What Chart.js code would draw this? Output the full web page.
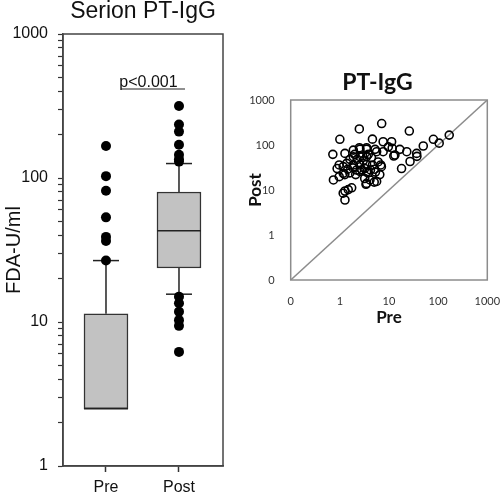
<!DOCTYPE html>
<html><head><meta charset="utf-8">
<script src="https://cdn.jsdelivr.net/npm/chart.js@4.4.1/dist/chart.umd.min.js"></script>
<style>
html,body{margin:0;padding:0;background:#fff;}
#wrap{position:relative;width:500px;height:496px;overflow:hidden;background:#fff;}
#c1{position:absolute;left:0;top:0;}
#c2{position:absolute;left:245px;top:0;}
</style></head><body>
<div id="wrap">
<canvas id="c1" width="250" height="496" style="width:250px;height:496px"></canvas>
<canvas id="c2" width="255" height="330" style="width:255px;height:330px"></canvas>
</div>
<script>
// ---------- Left panel: box plot ----------
const boxTitle = 'Serion PT-IgG';
const boxYLabel = 'FDA-U/ml';
const groups = ['Pre', 'Post'];
const q1 = [2.5, 23.7];
const medians = [2.5, 43];
const q3 = [11.4, 80];
const whiskerLow = [2.5, 15.6];
const whiskerHigh = [26.7, 126];
const preOutliers = [167, 103, 81.6, 53.3, 39, 36.5, 26.7];
const postOutliers = [316, 235, 210, 170, 145, 135, 130, 15, 13.5, 11.8, 10.3, 9.4, 6.2];
const pValueText = 'p<0.001';
const boxYTicks = [1,2,3,4,5,6,7,8,9,10,20,30,40,50,60,70,80,90,100,200,300,400,500,600,700,800,900,1000];
const boxYLabeled = [1, 10, 100, 1000];

// ---------- Right panel: scatter ----------
const scatterTitle = 'PT-IgG';
const scatterXLabel = 'Pre';
const scatterYLabel = 'Post';
const scatterPre  = [0.72,1.0,2.49,7.1,25.9,4.6,1.27,1.88,2.57,3.5,5.2,1.88,2.57,3.5,1.38,0.97,1.88,2.57,3.5,4.6,
                     0.74,0.97,1.17,0.88,1.17,1.45,1.85,2.2,2.8,3.5,4.2,5.3,3.2,4.1,3.5,5.0,1.27,1.48,1.74,1.17,
                     1.27,7.6,11.3,9.7,11.6,16.6,23,5.6,7.6,13.2,12.5,36.5,37,49.8,26.8,18,80,105,168,5.6,
                     6.5,6.8,5.1,3.0,2.25,1.6,2.0,3.8,4.4,6.0,2.1,2.55,3.2,1.6,7.0,1.26,3.4,2.9,3.8,2.5,3.5];
const scatterPost = [62,134,227,300,204,135,65,77,81,81,80,55,55,55,39,36,36,36,37,36,
                     16.7,19.8,23.5,30,33,29,31,27.8,28,25,28,25,18,16.7,14,15,9.5,10.2,11.2,8.5,
                     6.0,118,118,91,85,80,71,71,71,60,57,65,56,95,43,30,134,110,166,15.5,
                     22,36,29,45,48,48,62,62,52,42,22,26,30,24,33,22,13.4,57,24,87,87];
const scatterTicks = [0.1, 1, 10, 100, 1000];
const scatterTickLabels = ['0', '1', '10', '100', '1000'];
const identityLine = [0.1, 1000];

const LEFT_FONT = "'Liberation Sans', Arial, sans-serif";
const RIGHT_FONT = "Lato, 'Open Sans', sans-serif";

const boxExtras = {
  id: 'boxExtras',
  beforeDatasetsDraw(chart) {
    const {ctx, scales: {x, y}} = chart;
    ctx.save();
    ctx.strokeStyle = '#222';
    ctx.lineWidth = 1.5;
    groups.forEach((g, i) => {
      const px = x.getPixelForValue(i + 1);
      const seg = (x1, y1, x2, y2) => { ctx.beginPath(); ctx.moveTo(x1, y1); ctx.lineTo(x2, y2); ctx.stroke(); };
      if (whiskerHigh[i] > q3[i]) {
        const yh = y.getPixelForValue(whiskerHigh[i]);
        seg(px, y.getPixelForValue(q3[i]), px, yh);
        seg(px - 13, yh, px + 13, yh);
      }
      if (whiskerLow[i] < q1[i]) {
        const yl = y.getPixelForValue(whiskerLow[i]);
        seg(px, y.getPixelForValue(q1[i]), px, yl);
        seg(px - 13, yl, px + 13, yl);
      }
    });
    ctx.restore();
  },
  afterDatasetsDraw(chart) {
    const {ctx, scales: {x, y}, chartArea: a} = chart;
    ctx.save();
    ctx.strokeStyle = '#222';
    ctx.lineWidth = 1.5;
    groups.forEach((g, i) => {
      const px = x.getPixelForValue(i + 1);
      const ym = y.getPixelForValue(medians[i]);
      ctx.beginPath(); ctx.moveTo(px - 22, ym); ctx.lineTo(px + 22, ym); ctx.stroke();
    });
    // frame
    ctx.strokeStyle = '#444';
    ctx.lineWidth = 1.5;
    ctx.strokeRect(a.left, a.top, a.right - a.left, a.bottom - a.top);
    // title
    ctx.fillStyle = '#111';
    ctx.font = '23px ' + LEFT_FONT;
    ctx.textAlign = 'center';
    ctx.textBaseline = 'alphabetic';
    ctx.fillText(boxTitle, (a.left + a.right) / 2, 18);
    // p-value bracket
    const p1 = x.getPixelForValue(1), p2 = x.getPixelForValue(2);
    ctx.font = '16px ' + LEFT_FONT;
    ctx.fillText(pValueText, (p1 + p2) / 2 + 6, a.top + 53);
    ctx.strokeStyle = '#222';
    ctx.lineWidth = 1.2;
    ctx.beginPath(); ctx.moveTo(p1 + 15, a.top + 55); ctx.lineTo(p2 + 6, a.top + 55); ctx.stroke();
    ctx.restore();
  }
};

new Chart(document.getElementById('c1'), {
  type: 'bar',
  data: {
    datasets: [
      { type: 'scatter', data: preOutliers.map(v => ({x: 1, y: v})), pointRadius: 5, pointBackgroundColor: '#000', pointBorderColor: '#000', pointBorderWidth: 0, order: 0 },
      { type: 'scatter', data: postOutliers.map(v => ({x: 2, y: v})), pointRadius: 5, pointBackgroundColor: '#000', pointBorderColor: '#000', pointBorderWidth: 0, order: 0 },
      { type: 'bar', data: groups.map((g, i) => ({x: i + 1, y: [q1[i], q3[i]]})), backgroundColor: '#c2c2c2', borderColor: '#333', borderWidth: 1.5, borderSkipped: false, barThickness: 44, order: 1 }
    ]
  },
  options: {
    responsive: false, animation: false,
    layout: { padding: { left: 0, right: 27, top: 34, bottom: 0 } },
    plugins: { legend: { display: false }, tooltip: { enabled: false } },
    scales: {
      x: {
        type: 'linear', min: 0.411, max: 2.603, offset: false,
        afterBuildTicks: s => { s.ticks = groups.map((g, i) => ({value: i + 1})); },
        afterFit: s => { s.height = 30; },
        ticks: { callback: (v, i) => groups[i], font: { family: LEFT_FONT, size: 16 }, color: '#111', padding: 6, maxRotation: 0, autoSkip: false },
        grid: { offset: false, drawOnChartArea: false, drawTicks: true, tickLength: 6, tickColor: '#333', tickWidth: 1.5 },
        border: { display: true, color: '#444', width: 1.5 }
      },
      y: {
        type: 'logarithmic', min: 1, max: 1000,
        afterBuildTicks: s => { s.ticks = boxYTicks.map(v => ({value: v})); },
        afterFit: s => { s.width = 63; },
        ticks: { callback: v => boxYLabeled.includes(v) ? String(v) : '', font: { family: LEFT_FONT, size: 16 }, color: '#111', padding: 10, autoSkip: false },
        grid: { drawOnChartArea: false, drawTicks: true, tickLength: 5, tickColor: '#333', tickWidth: 1.2 },
        border: { display: true, color: '#444', width: 1.5 },
        title: { display: true, text: boxYLabel, font: { family: LEFT_FONT, size: 20 }, color: '#111', padding: { top: 2, bottom: 0 } }
      }
    }
  },
  plugins: [boxExtras]
});

const scatterExtras = {
  id: 'scatterExtras',
  afterDatasetsDraw(chart) {
    const {ctx, chartArea: a} = chart;
    ctx.save();
    ctx.strokeStyle = '#8c8c8c';
    ctx.lineWidth = 1.5;
    ctx.strokeRect(a.left, a.top, a.right - a.left, a.bottom - a.top);
    ctx.fillStyle = '#111';
    ctx.font = 'bold 23px ' + RIGHT_FONT;
    ctx.textAlign = 'center';
    ctx.textBaseline = 'alphabetic';
    ctx.fillText(scatterTitle, (a.left + a.right) / 2 - 11.5, a.top - 10);
    ctx.restore();
  }
};

new Chart(document.getElementById('c2'), {
  type: 'scatter',
  data: {
    datasets: [
      { data: scatterPre.map((v, i) => ({x: v, y: scatterPost[i]})), pointRadius: 4, pointBorderWidth: 1.6, pointBorderColor: '#000', pointBackgroundColor: 'rgba(255,255,255,0)', order: 0 },
      { type: 'line', data: identityLine.map(v => ({x: v, y: v})), borderColor: '#8c8c8c', borderWidth: 1.5, pointRadius: 0, order: 1 }
    ]
  },
  options: {
    responsive: false, animation: false,
    layout: { padding: { left: 0, right: 12.7, top: 100, bottom: 0 } },
    plugins: { legend: { display: false }, tooltip: { enabled: false } },
    scales: {
      x: {
        type: 'logarithmic', min: 0.1, max: 1000,
        afterBuildTicks: s => { s.ticks = scatterTicks.map(v => ({value: v})); },
        afterFit: s => { s.height = 50; s.paddingLeft = 0; s.paddingRight = 0; },
        ticks: { callback: (v, i) => scatterTickLabels[i], font: { family: RIGHT_FONT, size: 11 }, color: '#333', padding: 7, maxRotation: 0, autoSkip: false },
        grid: { display: false },
        border: { display: false },
        title: { display: true, text: scatterXLabel, font: { family: RIGHT_FONT, size: 17, weight: 'bold' }, color: '#111', padding: { top: 0, bottom: 2 } }
      },
      y: {
        type: 'logarithmic', min: 0.1, max: 1000,
        afterBuildTicks: s => { s.ticks = scatterTicks.map(v => ({value: v})); },
        afterFit: s => { s.width = 45.7; },
        ticks: { callback: (v, i) => scatterTickLabels[i], font: { family: RIGHT_FONT, size: 11 }, color: '#333', padding: 8, autoSkip: false },
        grid: { display: false },
        border: { display: false },
        title: { display: true, text: scatterYLabel, font: { family: RIGHT_FONT, size: 17, weight: 'bold' }, color: '#111', padding: { top: 0, bottom: 0 } }
      }
    }
  },
  plugins: [scatterExtras]
});
</script>
</body></html>
